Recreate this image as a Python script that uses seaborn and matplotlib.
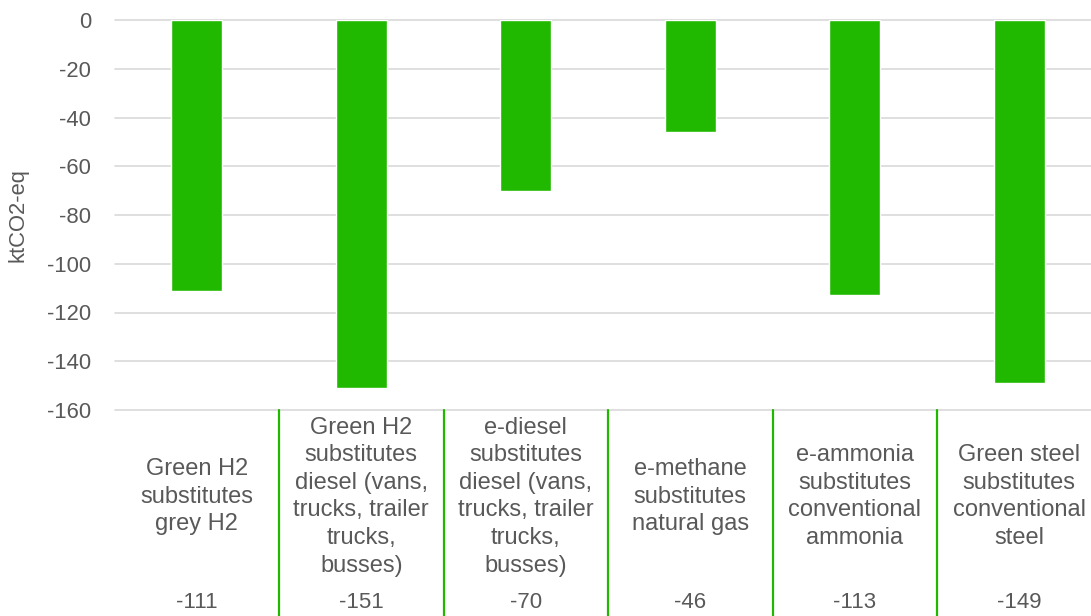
import matplotlib
matplotlib.use("Agg")
import matplotlib.pyplot as plt
import matplotlib.transforms as mtransforms
import seaborn as sns
import pandas as pd

categories = [
    "Green H2\nsubstitutes\ngrey H2",
    "Green H2\nsubstitutes\ndiesel (vans,\ntrucks, trailer\ntrucks,\nbusses)",
    "e-diesel\nsubstitutes\ndiesel (vans,\ntrucks, trailer\ntrucks,\nbusses)",
    "e-methane\nsubstitutes\nnatural gas",
    "e-ammonia\nsubstitutes\nconventional\nammonia",
    "Green steel\nsubstitutes\nconventional\nsteel",
]
values = [-111, -151, -70, -46, -113, -149]
y_ticks = [0, -20, -40, -60, -80, -100, -120, -140, -160]

BAR = "#21B900"
TEXT = "#595959"
GRID = "#D9D9D9"

sns.set_theme(style="white")
plt.rcParams["font.family"] = ["Liberation Sans", "DejaVu Sans"]

df = pd.DataFrame({"category": categories, "value": values})

fig = plt.figure(figsize=(10.91, 6.16), dpi=100)
# the plot area runs slightly past the right edge of the figure
ax = fig.add_axes([114.5 / 1091, 206 / 616, 987 / 1091, 390 / 616])

sns.barplot(data=df, x="category", y="value", color=BAR, width=0.31,
            saturation=1, ax=ax, zorder=3)

ax.set_ylim(-160, 0)
ax.set_xlim(-0.5, len(categories) - 0.5)
ax.set_yticks(y_ticks)
ax.set_yticklabels([str(t) for t in y_ticks])
ax.tick_params(axis="y", length=0, pad=17, labelsize=15.8, labelcolor=TEXT)
ax.tick_params(axis="x", length=0, labelbottom=False)
ax.set_xlabel("")
ax.set_ylabel("ktCO2-eq", fontsize=15.8, color=TEXT, labelpad=13)

ax.grid(axis="y", color=GRID, linewidth=1.2, zorder=0)
ax.grid(axis="x", visible=False)
for t in ax.yaxis.get_gridlines():
    t.set_clip_on(False)
for s in ax.spines.values():
    s.set_visible(False)

# category table beneath the plot
trans = mtransforms.blended_transform_factory(ax.transData, ax.transAxes)
for i, (lab, v) in enumerate(zip(categories, values)):
    ax.text(i, -0.222, lab, transform=trans, ha="center", va="center",
            fontsize=17, color=TEXT, linespacing=1.33)
    ax.text(i, -0.494, f"{v}", transform=trans, ha="center", va="center",
            fontsize=16, color=TEXT)
for i in range(len(categories) - 1):
    ax.plot([i + 0.5, i + 0.5], [0, -0.53], transform=trans, color=BAR,
            linewidth=1.6, clip_on=False, zorder=2)

fig.savefig("out.png", dpi=100)
